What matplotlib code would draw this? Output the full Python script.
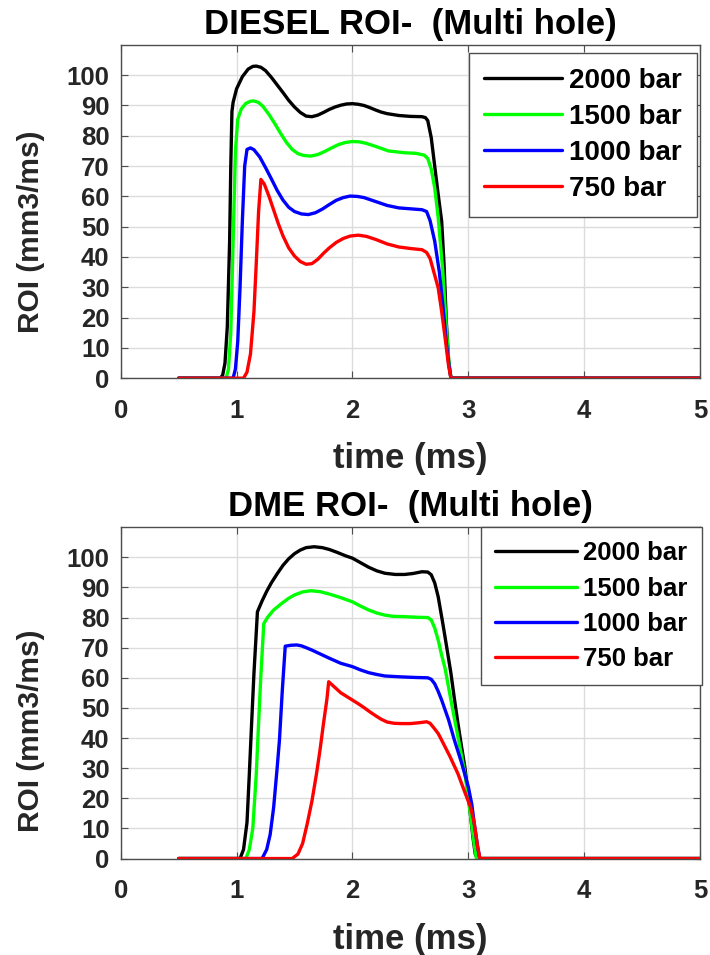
import numpy as np
import matplotlib
matplotlib.use('Agg')
from matplotlib import pyplot as plt
from matplotlib import font_manager

# injection rate traces, time in ms, rate in mm3/ms
diesel_t_2000 = [0.5, 0.86, 0.88, 0.90, 0.92, 0.94, 0.95, 0.96, 0.97, 1.0, 1.05, 1.1, 1.14, 1.17, 1.21, 1.25,
                 1.3, 1.35, 1.4, 1.45, 1.5, 1.55, 1.6, 1.65, 1.7, 1.75, 1.8, 1.85, 1.9, 1.95, 2.0, 2.05,
                 2.1, 2.15, 2.2, 2.25, 2.3, 2.4, 2.5, 2.6, 2.63, 2.65, 2.68, 2.71, 2.74, 2.77, 2.79, 2.81,
                 2.83, 2.85, 5.0]
diesel_r_2000 = [0, 0, 1, 5, 17, 45, 70, 88, 91, 95.5, 99.5, 102, 102.9, 103, 102.6, 101.5,
                 99.3, 96.8, 94.3, 91.7, 89.5, 87.7, 86.5, 86.3, 86.8, 87.7, 88.7, 89.5, 90.1, 90.5, 90.6, 90.4,
                 90.0, 89.3, 88.5, 87.8, 87.3, 86.7, 86.4, 86.3, 86.0, 85.0, 79.4, 70.0, 60.6, 51.8, 38.0, 18.7,
                 6.0, 0, 0]

diesel_t_1500 = [0.5, 0.91, 0.93, 0.95, 0.97, 0.99, 1.01, 1.04, 1.08, 1.12, 1.15, 1.19, 1.23, 1.28, 1.33,
                 1.38, 1.43, 1.48, 1.53, 1.58, 1.64, 1.7, 1.76, 1.82, 1.88, 1.94, 2.0, 2.06, 2.12, 2.2,
                 2.31, 2.45, 2.55, 2.62, 2.65, 2.68, 2.71, 2.74, 2.78, 2.81, 2.83, 2.85, 5.0]
diesel_r_1500 = [0, 0, 3, 15, 45, 75, 85.4, 88.8, 90.7, 91.4, 91.5, 91.0, 89.6, 87.0, 84.0,
                 80.8, 77.8, 75.5, 74.1, 73.5, 73.3, 73.8, 74.8, 76.0, 77.1, 77.8, 78.1, 78.0, 77.5, 76.5,
                 75.0, 74.4, 74.2, 73.6, 72.5, 69.0, 62.8, 53.0, 35.3, 17.0, 6.0, 0, 0]

diesel_t_1000 = [0.5, 0.97, 0.99, 1.01, 1.03, 1.05, 1.07, 1.09, 1.12, 1.15, 1.2, 1.25, 1.3, 1.35, 1.4,
                 1.45, 1.5, 1.56, 1.62, 1.68, 1.74, 1.8, 1.86, 1.92, 1.98, 2.04, 2.1, 2.2, 2.3, 2.4,
                 2.5, 2.6, 2.64, 2.67, 2.71, 2.75, 2.78, 2.81, 2.83, 2.85, 5.0]
diesel_r_1000 = [0, 0, 3, 12, 30, 52, 70, 75.5, 76.0, 75.4, 73.0, 69.5, 65.8, 62.0, 58.8,
                 56.4, 55.0, 54.2, 54.0, 54.6, 55.8, 57.3, 58.7, 59.6, 60.1, 60.0, 59.6, 58.3, 57.0, 56.2,
                 55.9, 55.6, 55.0, 52.0, 45.2, 35.0, 24.2, 12.0, 5.0, 0, 0]

diesel_t_750 = [0.5, 1.06, 1.09, 1.12, 1.15, 1.17, 1.19, 1.21, 1.24, 1.28, 1.32, 1.36, 1.4, 1.45, 1.5,
                1.55, 1.6, 1.65, 1.7, 1.75, 1.8, 1.86, 1.92, 1.98, 2.05, 2.12, 2.2, 2.3, 2.4, 2.5,
                2.6, 2.64, 2.67, 2.71, 2.74, 2.77, 2.8, 2.83, 2.85, 5.0]
diesel_r_750 = [0, 0, 2, 8, 22, 38, 55, 65.6, 64.0, 60.0, 55.5, 51.0, 47.0, 43.0, 40.3,
                38.5, 37.6, 37.8, 39.2, 41.2, 43.0, 44.8, 46.1, 46.9, 47.2, 46.8, 45.8, 44.3, 43.3, 42.8,
                42.4, 41.5, 39.5, 34.0, 29.8, 22.0, 13.2, 4.0, 0, 0]

dme_t_2000 = [0.5, 1.03, 1.06, 1.09, 1.11, 1.13, 1.15, 1.18, 1.22, 1.26, 1.3, 1.35, 1.4, 1.45, 1.5,
              1.55, 1.6, 1.67, 1.74, 1.8, 1.87, 1.94, 2.0, 2.07, 2.14, 2.21, 2.28, 2.37, 2.45, 2.52,
              2.6, 2.65, 2.68, 2.71, 2.74, 2.78, 2.81, 2.85, 2.88, 2.91, 2.94, 2.97, 3.0, 3.02, 3.04,
              3.06, 3.08, 5.0]
dme_r_2000 = [0, 0, 3, 12, 28, 45, 61.5, 81.9, 85.5, 88.7, 91.5, 94.5, 97.3, 99.5, 101.2,
              102.4, 103.2, 103.5, 103.2, 102.6, 101.6, 100.5, 99.7, 98.2, 96.7, 95.5, 94.7, 94.3, 94.3, 94.6,
              95.2, 95.1, 94.2, 91.5, 86.9, 78.0, 71.0, 61.5, 53.0, 45.0, 37.5, 30.4, 21.0, 14.0, 7.0,
              1.5, 0, 0]

dme_t_1500 = [0.5, 1.08, 1.11, 1.14, 1.17, 1.19, 1.21, 1.235, 1.27, 1.32, 1.39, 1.45, 1.5, 1.57, 1.64,
              1.72, 1.8, 1.9, 2.0, 2.07, 2.14, 2.21, 2.28, 2.35, 2.45, 2.55, 2.65, 2.68, 2.71, 2.74,
              2.77, 2.8, 2.85, 2.88, 2.91, 2.94, 2.97, 3.0, 3.02, 3.05, 3.07, 5.0]
dme_r_1500 = [0, 0, 3, 10, 28, 45, 61, 78, 80.2, 82.5, 84.7, 86.4, 87.5, 88.5, 88.9,
              88.6, 87.8, 86.6, 85.2, 83.8, 82.5, 81.5, 80.8, 80.4, 80.3, 80.1, 80.0, 79.2, 76.5, 72.5,
              67.5, 63.0, 52.6, 46.5, 40.5, 34.5, 28.3, 20.0, 14.0, 5.0, 0, 0]

dme_t_1000 = [0.5, 1.22, 1.26, 1.29, 1.32, 1.35, 1.37, 1.395, 1.42, 1.47, 1.52, 1.56, 1.6, 1.65, 1.7,
              1.8, 1.9, 2.0, 2.07, 2.14, 2.21, 2.28, 2.42, 2.55, 2.65, 2.68, 2.71, 2.74, 2.77, 2.83,
              2.88, 2.94, 3.0, 3.03, 3.05, 3.08, 3.1, 5.0]
dme_r_1000 = [0, 0, 3, 8, 17, 30, 39.3, 56, 70.5, 70.8, 70.9, 70.6, 70.0, 69.2, 68.3,
              66.5, 64.8, 63.7, 62.6, 61.7, 61.1, 60.6, 60.3, 60.1, 60.0, 59.5, 58.0, 55.5, 52.6, 46.0,
              39.3, 32.0, 23.8, 18.0, 12.0, 4.0, 0, 0]

dme_t_750 = [0.5, 1.48, 1.53, 1.57, 1.61, 1.65, 1.69, 1.72, 1.75, 1.78, 1.795, 1.82, 1.86, 1.9, 1.95,
             2.0, 2.05, 2.1, 2.15, 2.2, 2.25, 2.3, 2.36, 2.42, 2.5, 2.58, 2.64, 2.67, 2.7, 2.74,
             2.77, 2.84, 2.91, 2.97, 3.02, 3.05, 3.08, 3.1, 5.0]
dme_r_750 = [0, 0, 1.5, 5, 11.6, 19, 28.2, 36, 44.8, 53, 58.7, 57.8, 56.4, 55.0, 53.8,
             52.6, 51.4, 50.1, 48.7, 47.4, 46.2, 45.3, 44.9, 44.8, 44.8, 45.1, 45.4, 44.9, 43.5, 41.5,
             39.3, 34.0, 28.2, 22.0, 17.0, 12.0, 4.0, 0, 0]

labels = ['2000 bar', '1500 bar', '1000 bar', '750 bar']
colors = ['#000000', '#00ff00', '#0000ff', '#ff0000']
titles = ['DIESEL ROI-  (Multi hole)', 'DME ROI-  (Multi hole)']
x_ticks = [0, 1, 2, 3, 4, 5]
y_ticks = list(range(0, 101, 10))

_available = {f.name for f in font_manager.fontManager.ttflist}
_family = 'Liberation Sans' if 'Liberation Sans' in _available else 'DejaVu Sans'
plt.rcParams['font.family'] = [_family, 'DejaVu Sans']
plt.rcParams['font.weight'] = 'bold'

TEXT_GRAY = '#262626'


def _style_axes(ax, title, ylabel_y):
    ax.set_xlim(0, 5)
    ax.set_ylim(0, 110)
    ax.set_xticks(x_ticks)
    ax.set_yticks(y_ticks)
    ax.grid(True, color='#dcdcdc', linewidth=1.0)
    ax.set_axisbelow(True)
    for s in ax.spines.values():
        s.set_color('#4d4d4d')
        s.set_linewidth(1.0)
    ax.tick_params(direction='in', top=True, right=True, length=5, width=0.8,
                   colors='#4d4d4d', labelcolor=TEXT_GRAY, labelsize=18.5)
    ax.tick_params(axis='x', pad=15)
    ax.tick_params(axis='y', pad=8)
    for lab in ax.get_xticklabels() + ax.get_yticklabels():
        lab.set_fontweight('bold')
    ax.set_xlabel('time (ms)', fontsize=25, fontweight='bold', color=TEXT_GRAY, labelpad=14)
    ax.set_ylabel('ROI (mm3/ms)', fontsize=21.5, fontweight='bold', color=TEXT_GRAY)
    # anchor sits on the right edge of the rotated label
    ax.yaxis.set_label_coords(-0.130, ylabel_y)
    ax.set_title(title, fontsize=25, fontweight='bold', color='#000000', pad=8)


fig = plt.figure(figsize=(7.1, 9.55), dpi=100)
ax_top = fig.add_axes([0.170, 0.604, 0.816, 0.349])
ax_bot = fig.add_axes([0.170, 0.101, 0.816, 0.347])

diesel = [(diesel_t_2000, diesel_r_2000), (diesel_t_1500, diesel_r_1500),
          (diesel_t_1000, diesel_r_1000), (diesel_t_750, diesel_r_750)]
dme = [(dme_t_2000, dme_r_2000), (dme_t_1500, dme_r_1500),
       (dme_t_1000, dme_r_1000), (dme_t_750, dme_r_750)]

panels = [
    (ax_top, diesel, titles[0], 0.44, (0.995, 0.976), 20, 0.36, 2.8),
    (ax_bot, dme, titles[1], 0.385, (1.003, 1.0), 18.5, 0.44, 3.2),
]

for ax, series, title, ylab_y, anchor, fsize, spacing, hlen in panels:
    for (t, r), c, lab in zip(series, colors, labels):
        ax.plot(t, r, color=c, linewidth=2.4, label=lab,
                solid_joinstyle='round', solid_capstyle='round')
    _style_axes(ax, title, ylab_y)
    leg = ax.legend(loc='upper right', bbox_to_anchor=anchor, fontsize=fsize,
                    handlelength=hlen, handletextpad=0.25, labelspacing=spacing,
                    borderpad=0.55, borderaxespad=0.0, fancybox=False,
                    framealpha=1.0, edgecolor='#4d4d4d')
    leg.get_frame().set_linewidth(1.0)
    for txt in leg.get_texts():
        txt.set_fontweight('bold')

fig.savefig('out.png', dpi=100)
